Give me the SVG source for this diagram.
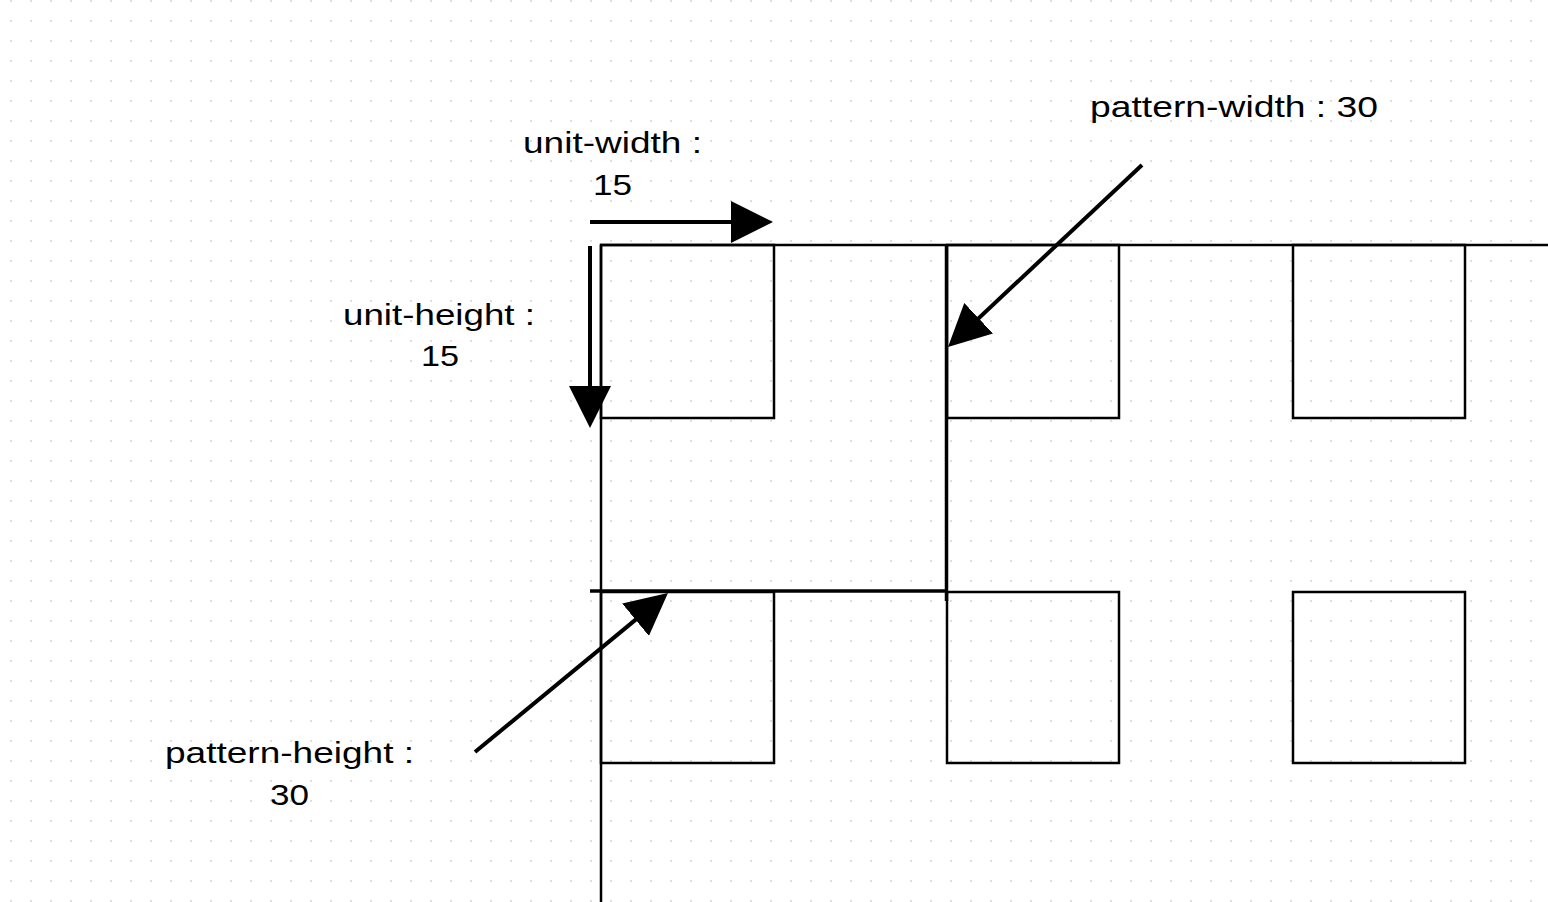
<svg xmlns="http://www.w3.org/2000/svg" width="1548" height="902" viewBox="0 0 1548 902">
  <style>
    .sq { fill: none; stroke: #000; stroke-width: 2.5; }
    .edge { fill: none; stroke: #000; stroke-width: 2.5; }
    .bold { fill: none; stroke: #000; stroke-width: 3.5; }
    .arrow { fill: none; stroke: #000; stroke-width: 4; marker-end: url(#head); }
    .lbl { font-family: "Liberation Sans", Arial, sans-serif; font-size: 30px; fill: #000; }
  </style>
  <defs>
    <pattern id="dots" x="0" y="0" width="20" height="20" patternUnits="userSpaceOnUse">
      <rect x="10" y="0" width="2" height="2" fill="#dedede"/>
    </pattern>
    <marker id="head" viewBox="0 0 42 42" markerWidth="42" markerHeight="42" refX="12" refY="21" orient="auto" markerUnits="userSpaceOnUse">
      <path d="M0,0 L42,21 L0,42 z" fill="#000"/>
    </marker>
  </defs>
  <rect width="1548" height="902" fill="#fff"/>
  <rect width="1548" height="902" fill="url(#dots)"/>

  <g id="squares">
    <rect id="sq-1-1" class="sq" x="601" y="245" width="173" height="173"/>
    <rect id="sq-1-2" class="sq" x="947" y="245" width="172" height="173"/>
    <rect id="sq-1-3" class="sq" x="1293" y="245" width="172" height="173"/>
    <rect id="sq-2-1" class="sq" x="601" y="592" width="173" height="171"/>
    <rect id="sq-2-2" class="sq" x="947" y="592" width="172" height="171"/>
    <rect id="sq-2-3" class="sq" x="1293" y="592" width="172" height="171"/>
  </g>

  <g id="axes">
    <line class="edge" x1="600" y1="245" x2="1548" y2="245"/>
    <line class="edge" x1="601" y1="245" x2="601" y2="902"/>
    <line id="pattern-width-line" class="bold" x1="946.5" y1="245" x2="946.5" y2="601"/>
    <line id="pattern-height-line" class="bold" x1="590" y1="591" x2="948" y2="591"/>
  </g>

  <g id="connectors">
    <line id="arrow-unit-width" class="arrow" x1="590" y1="222" x2="743" y2="222"/>
    <line id="arrow-unit-height" class="arrow" x1="590" y1="246" x2="590" y2="398"/>
    <line id="arrow-pattern-width" class="arrow" x1="1142" y1="165" x2="969.9" y2="326.5"/>
    <line id="arrow-pattern-height" class="arrow" x1="475" y1="752" x2="644.8" y2="612.1"/>
  </g>

  <g id="label-pattern-width">
    <text class="lbl" x="1090" y="117" textLength="288" lengthAdjust="spacingAndGlyphs">pattern-width : 30</text>
  </g>
  <g id="label-unit-width">
    <text class="lbl" x="523" y="153" textLength="179" lengthAdjust="spacingAndGlyphs">unit-width :</text>
    <text class="lbl" x="593" y="195" textLength="39" lengthAdjust="spacingAndGlyphs">15</text>
  </g>
  <g id="label-unit-height">
    <text class="lbl" x="343" y="325" textLength="192" lengthAdjust="spacingAndGlyphs">unit-height :</text>
    <text class="lbl" x="421" y="366" textLength="38" lengthAdjust="spacingAndGlyphs">15</text>
  </g>
  <g id="label-pattern-height">
    <text class="lbl" x="165" y="763" textLength="249" lengthAdjust="spacingAndGlyphs">pattern-height :</text>
    <text class="lbl" x="270" y="805" textLength="39" lengthAdjust="spacingAndGlyphs">30</text>
  </g>
</svg>
